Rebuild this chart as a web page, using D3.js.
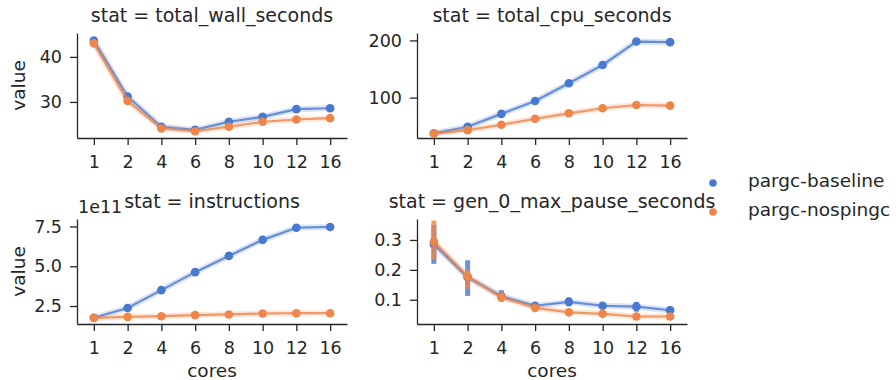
<!DOCTYPE html>
<html>
<head>
<meta charset="utf-8">
<script src="https://cdn.jsdelivr.net/npm/d3@7"></script>
<style>
  body { margin: 0; background: #fff; }
  text { font-family: "DejaVu Sans", sans-serif; fill: #262626; }
  .axis path, .axis line { stroke: #262626; stroke-width: 1.3; }
  .axis text { font-size: 17.5px; }
  .title { font-size: 19px; }
  .label { font-size: 18.5px; }
</style>
</head>
<body>
<div id="chart"></div>
<script>
const cores = [1, 2, 4, 6, 8, 10, 12, 16]
const seriesNames = ["pargc-baseline", "pargc-nospingc"]
const colors = ["#4878d0", "#ee854a"]

// total_wall_seconds
const wallBaseline = [43.6, 31.2, 24.5, 23.8, 25.6, 26.7, 28.4, 28.6]
const wallBaselineLo = [43.2, 30.6, 24.2, 23.5, 25.3, 26.4, 28.1, 28.3]
const wallBaselineHi = [44.0, 31.8, 24.8, 24.1, 25.9, 27.0, 28.7, 28.9]
const wallNospingc = [43.0, 30.2, 24.1, 23.5, 24.5, 25.6, 26.1, 26.4]
const wallNospingcLo = [42.7, 29.5, 23.8, 23.2, 24.2, 25.3, 25.8, 26.0]
const wallNospingcHi = [43.3, 30.8, 24.4, 23.8, 24.8, 25.9, 26.4, 26.8]

// total_cpu_seconds
const cpuBaseline = [37.5, 49, 71.5, 94, 125, 157, 198, 197]
const cpuNospingc = [37, 43, 52.5, 63, 72.5, 81.3, 87, 86]

// instructions
const instrBaseline = [1.76e11, 2.38e11, 3.5e11, 4.63e11, 5.65e11, 6.66e11, 7.42e11, 7.47e11]
const instrBaselineLo = [1.72e11, 2.25e11, 3.4e11, 4.55e11, 5.58e11, 6.6e11, 7.32e11, 7.33e11]
const instrBaselineHi = [1.8e11, 2.5e11, 3.6e11, 4.71e11, 5.72e11, 6.72e11, 7.52e11, 7.6e11]
const instrNospingc = [1.75e11, 1.82e11, 1.86e11, 1.93e11, 1.97e11, 2.03e11, 2.05e11, 2.05e11]

// gen_0_max_pause_seconds
const pauseBaseline = [0.285, 0.175, 0.112, 0.080, 0.093, 0.080, 0.077, 0.065]
const pauseBaselineLo = [0.22, 0.113, 0.095, 0.072, 0.078, 0.070, 0.060, 0.055]
const pauseBaselineHi = [0.35, 0.232, 0.132, 0.088, 0.108, 0.090, 0.093, 0.078]
const pauseNospingc = [0.295, 0.178, 0.108, 0.073, 0.058, 0.053, 0.044, 0.044]
const pauseNospingcLo = [0.235, 0.137, 0.093, 0.066, 0.052, 0.047, 0.040, 0.040]
const pauseNospingcHi = [0.365, 0.200, 0.125, 0.080, 0.064, 0.060, 0.048, 0.048]

// y ticks
const wallTicks = [30, 40]
const cpuTicks = [100, 200]
const instrTicks = [2.5e11, 5e11, 7.5e11]
const pauseTicks = [0.1, 0.2, 0.3]

const panels = [
    { stat: "total_wall_seconds", col: 0, row: 0, domain: [22, 45.3], ticks: wallTicks,
      fmt: d3.format("d"),
      series: [[wallBaseline, wallBaselineLo, wallBaselineHi], [wallNospingc, wallNospingcLo, wallNospingcHi]] },
    { stat: "total_cpu_seconds", col: 1, row: 0, domain: [29.3, 213], ticks: cpuTicks,
      fmt: d3.format("d"),
      series: [[cpuBaseline, cpuBaseline, cpuBaseline], [cpuNospingc, cpuNospingc, cpuNospingc]] },
    { stat: "instructions", col: 0, row: 1, domain: [1.37e11, 7.97e11], ticks: instrTicks,
      fmt: (d) => d3.format(".1f")(d / 1e11), offset: "1e11",
      series: [[instrBaseline, instrBaselineLo, instrBaselineHi], [instrNospingc, instrNospingc, instrNospingc]] },
    { stat: "gen_0_max_pause_seconds", col: 1, row: 1, domain: [0.019, 0.37], ticks: pauseTicks,
      fmt: d3.format(".1f"),
      series: [[pauseBaseline, pauseBaselineLo, pauseBaselineHi], [pauseNospingc, pauseNospingcLo, pauseNospingcHi]] },
]

const svg = d3.select("#chart").append("svg")
    .attr("width", 896)
    .attr("height", 380)

const panelW = 270, panelH = 105
const lefts = [77, 417], tops = [33, 219]

panels.forEach(function(p){
    const g = svg.append("g")
        .attr("transform", `translate(${lefts[p.col]},${tops[p.row]})`)

    const xScale = d3.scalePoint()
        .domain(cores)
        .range([0, panelW])
        .padding(0.5)

    const yScale = d3.scaleLinear()
        .domain(p.domain)
        .range([panelH, 0])

    g.append("g")
        .attr("class", "axis")
        .attr("transform", `translate(0,${panelH})`)
        .call(d3.axisBottom(xScale).tickSize(7).tickSizeOuter(0).tickPadding(11))

    g.append("g")
        .attr("class", "axis")
        .call(d3.axisLeft(yScale).tickValues(p.ticks).tickFormat(p.fmt)
            .tickSize(7).tickSizeOuter(0).tickPadding(8))

    //Title
    g.append("text")
        .attr("class", "title")
        .attr("x", panelW / 2)
        .attr("y", -11)
        .attr("text-anchor", "middle")
        .text("stat = " + p.stat)

    if(p.offset){
        g.append("text")
            .attr("x", 1)
            .attr("y", -6)
            .style("font-size", "17.5px")
            .text(p.offset)
    }

    //y Axis Title
    if(p.col === 0){
        g.append("text")
            .attr("class", "label")
            .attr("transform", `translate(${25 - lefts[0]},${panelH / 2}) rotate(-90)`)
            .attr("text-anchor", "middle")
            .text("value")
    }

    //x Axis Title
    if(p.row === 1){
        g.append("text")
            .attr("class", "label")
            .attr("x", panelW / 2)
            .attr("y", 377 - tops[1])
            .attr("text-anchor", "middle")
            .text("cores")
    }

    const line = d3.line()
        .x((d) => xScale(d.core))
        .y((d) => yScale(d.value))

    p.series.forEach(function(s, si){
        const pts = cores.map((c, i) => ({ core: c, value: s[0][i], lo: s[1][i], hi: s[2][i] }))
        const sg = g.append("g")

        // soft halo round the line
        sg.append("path")
            .datum(pts)
            .attr("d", line)
            .attr("fill", "none")
            .attr("stroke", colors[si])
            .attr("stroke-width", 6)
            .attr("stroke-linejoin", "round")
            .attr("opacity", 0.2)

        sg.append("path")
            .datum(pts)
            .attr("d", line)
            .attr("fill", "none")
            .attr("stroke", colors[si])
            .attr("stroke-width", 2.2)
            .attr("opacity", 0.8)

        sg.selectAll("line.err")
            .data(pts)
            .enter()
            .append("line")
            .attr("x1", (d) => xScale(d.core))
            .attr("x2", (d) => xScale(d.core))
            .attr("y1", (d) => yScale(d.lo))
            .attr("y2", (d) => yScale(d.hi))
            .attr("stroke", colors[si])
            .attr("stroke-width", 5)
            .attr("opacity", 0.8)

        sg.selectAll("circle")
            .data(pts)
            .enter()
            .append("circle")
            .attr("cx", (d) => xScale(d.core))
            .attr("cy", (d) => yScale(d.value))
            .attr("r", 4.3)
            .attr("fill", colors[si])
    })
})

//Legend
const legend = svg.append("g")
    .attr("transform", "translate(713,183)")
legend.selectAll("circle")
    .data(seriesNames)
    .enter()
    .append("circle")
    .attr("cx", 0)
    .attr("cy", (d, i) => i * 29)
    .attr("r", 3.8)
    .attr("fill", (d, i) => colors[i])
legend.selectAll("text")
    .data(seriesNames)
    .enter()
    .append("text")
    .attr("class", "label")
    .attr("x", 35)
    .attr("y", (d, i) => 4 + i * 29)
    .text((d) => d)
</script>
</body>
</html>
